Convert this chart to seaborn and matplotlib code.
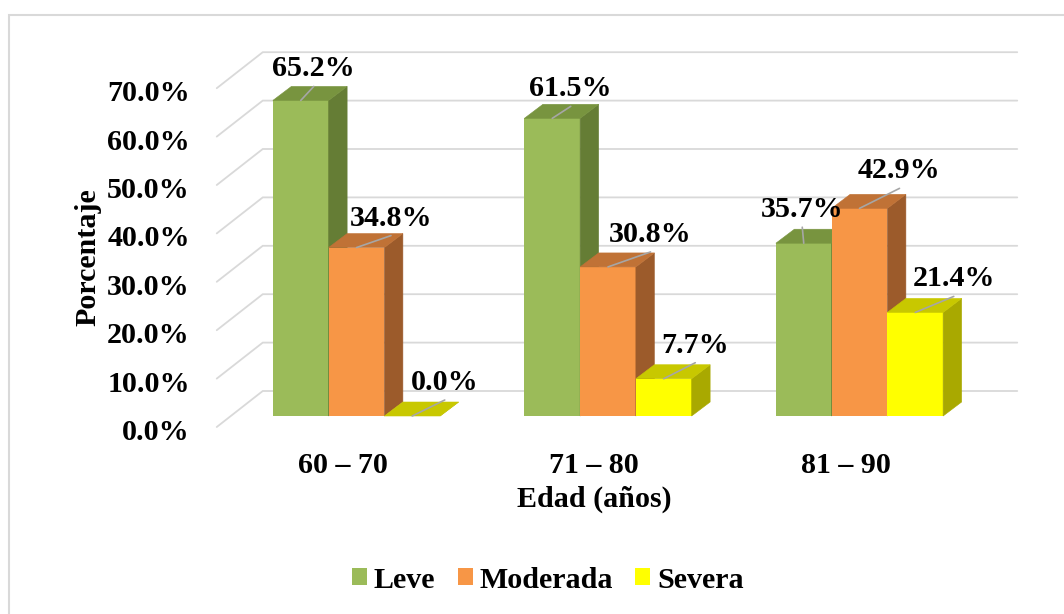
import numpy as np
import pandas as pd
import matplotlib
matplotlib.use("Agg")
import matplotlib.pyplot as plt
from matplotlib.patches import Polygon, Rectangle, Patch
import seaborn as sns

# ---- data -------------------------------------------------------------
edades = ["60 – 70", "71 – 80", "81 – 90"]
niveles = ["Leve", "Moderada", "Severa"]
leve = [65.2, 61.5, 35.7]
moderada = [34.8, 30.8, 42.9]
severa = [0.0, 7.7, 21.4]
y_ticks = [0, 10, 20, 30, 40, 50, 60, 70]

# ---- style ------------------------------------------------------------
front_colors = ["#9BBB59", "#F79646", "#FFFF00"]
top_colors = ["#78943F", "#C07236", "#C8C800"]
side_colors = ["#657D35", "#9C5B2B", "#A9A900"]
grid_color = "#D9D9D9"
leader_color = "#A6A6A6"

# label placement (pixels) relative to each bar's front-top centre:
# (right, up to text centre), ordered group by group, Leve/Moderada/Severa
label_offsets = [(13, 34), (34.5, 32), (32.5, 36),
                 (18.5, 32), (42.5, 35), (31.5, 36),
                 (-1.5, 36), (40, 40), (38.5, 36)]

W, H, DPI = 1064, 614, 100
PX_X = 251.5          # pixels per category step
PX_Y = 4.84           # pixels per percentage point
ORIGIN = (356.5, 416) # first category / 0 % on the bar plane (pixels from top-left)
BAR_DEPTH = (18.5, 14)
FRONT = (-14, -11)    # floor front edge relative to bar plane
BACK = (32, 25)       # back wall relative to bar plane
FS = 21.6


def dxu(px):
    return px / PX_X


def dyu(px):
    return px / PX_Y


sns.set_theme(style="white")
plt.rcParams["font.family"] = ["Liberation Serif", "DejaVu Serif"]
plt.rcParams["font.weight"] = "bold"
plt.rcParams["font.size"] = FS
plt.rcParams["text.color"] = "black"

fig = plt.figure(figsize=(W / DPI, H / DPI), dpi=DPI)
fig.patch.set_facecolor("white")

ax_l, ax_r, ax_t, ax_b = 150, 1040, 40, 440
ax = fig.add_axes([ax_l / W, (H - ax_b) / H, (ax_r - ax_l) / W, (ax_b - ax_t) / H])

rows = [(e, n, v) for n, vals in zip(niveles, [leve, moderada, severa])
        for e, v in zip(edades, vals)]
df = pd.DataFrame(rows, columns=["Edad", "Nivel", "Porcentaje"])

sns.barplot(data=df, x="Edad", y="Porcentaje", hue="Nivel", order=edades,
            hue_order=niveles, palette=front_colors, width=0.665, saturation=1,
            errorbar=None, legend=False, linewidth=0, ax=ax)

# ---- back wall and side wall gridlines ---------------------------------
x_left, x_right = -0.5, 2.5
for v in y_ticks:
    xs = [x_left + dxu(FRONT[0]), x_left + dxu(BACK[0]), x_right + dxu(BACK[0])]
    ys = [v + dyu(FRONT[1]), v + dyu(BACK[1]), v + dyu(BACK[1])]
    ax.plot(xs, ys, color=grid_color, lw=1.3, zorder=1, clip_on=False,
            solid_joinstyle="miter")
    ax.annotate(f"{v:.1f}%", xy=(x_left + dxu(FRONT[0]), v + dyu(FRONT[1])),
                xytext=(-27, -13), textcoords="offset pixels",
                ha="right", va="baseline", fontsize=FS, fontweight="bold",
                color="black")

# ---- 3D faces of the bars ----------------------------------------------
values = [leve, moderada, severa]
bars = sorted(ax.patches, key=lambda p: p.get_x())
ddx, ddy = dxu(BAR_DEPTH[0]), dyu(BAR_DEPTH[1])
for k, p in enumerate(bars):
    g, h = divmod(k, 3)
    v = values[h][g]
    x0 = p.get_x()
    x1 = x0 + p.get_width()
    z = 3 + 0.01 * k
    p.set_zorder(z)
    p.set_facecolor(front_colors[h])
    side = Polygon([(x1, 0), (x1 + ddx, ddy), (x1 + ddx, v + ddy), (x1, v)],
                   closed=True, facecolor=side_colors[h], edgecolor=side_colors[h],
                   lw=0.4, zorder=z)
    top = Polygon([(x0, v), (x1, v), (x1 + ddx, v + ddy), (x0 + ddx, v + ddy)],
                  closed=True, facecolor=top_colors[h], edgecolor=top_colors[h],
                  lw=0.4, zorder=z)
    ax.add_patch(side)
    ax.add_patch(top)

    # value label with its leader line
    cx = (x0 + x1) / 2
    lx, ly = label_offsets[k]
    ax.annotate("", xy=(cx, v), xytext=(lx, ly - 20), textcoords="offset pixels",
                arrowprops=dict(arrowstyle="-", color=leader_color, lw=1.2,
                                shrinkA=0, shrinkB=0), zorder=15)
    ax.annotate(f"{v:.1f}%", xy=(cx, v), xytext=(lx, ly - 10),
                textcoords="offset pixels", ha="center", va="baseline",
                fontsize=FS, fontweight="bold", color="black", zorder=20)

# ---- category labels and axis titles -----------------------------------
for i, e in enumerate(edades):
    ax.annotate(e, xy=(i + dxu(FRONT[0]), dyu(FRONT[1])), xytext=(0, -46),
                textcoords="offset pixels", ha="center", va="baseline",
                fontsize=FS, fontweight="bold", color="black")
ax.annotate("Edad (años)", xy=(1 + dxu(FRONT[0]), dyu(FRONT[1])), xytext=(0, -80),
            textcoords="offset pixels", ha="center", va="baseline",
            fontsize=FS, fontweight="bold", color="black")
ax.annotate("Porcentaje", xy=(x_left + dxu(FRONT[0]), 35 + dyu(FRONT[1])),
            xytext=(-128.5, 0), textcoords="offset pixels", rotation=90,
            ha="center", va="center", fontsize=FS, fontweight="bold",
            color="black")

ax.set_xlim((ax_l - ORIGIN[0]) / PX_X, (ax_r - ORIGIN[0]) / PX_X)
ax.set_ylim((ORIGIN[1] - ax_b) / PX_Y, (ORIGIN[1] - ax_t) / PX_Y)
ax.axis("off")

# ---- legend ------------------------------------------------------------
handles = [Patch(facecolor=c, edgecolor="none") for c in front_colors]
leg = fig.legend(handles, niveles, loc="center", bbox_to_anchor=(548 / W, 1 - 580 / H),
                 ncol=3, frameon=False, handlelength=0.5, handleheight=0.5,
                 handletextpad=0.22, columnspacing=0.75, borderaxespad=0, borderpad=0,
                 prop={"family": ["Liberation Serif"], "weight": "bold", "size": FS})
for t in leg.get_texts():
    t.set_color("black")

# chart area outline
fig.add_artist(Rectangle((9 / W, -0.1), 2, 1 - 15 / H + 0.1, transform=fig.transFigure,
                         fill=False, edgecolor=grid_color, lw=1.5))

fig.savefig("out.png", dpi=DPI)
